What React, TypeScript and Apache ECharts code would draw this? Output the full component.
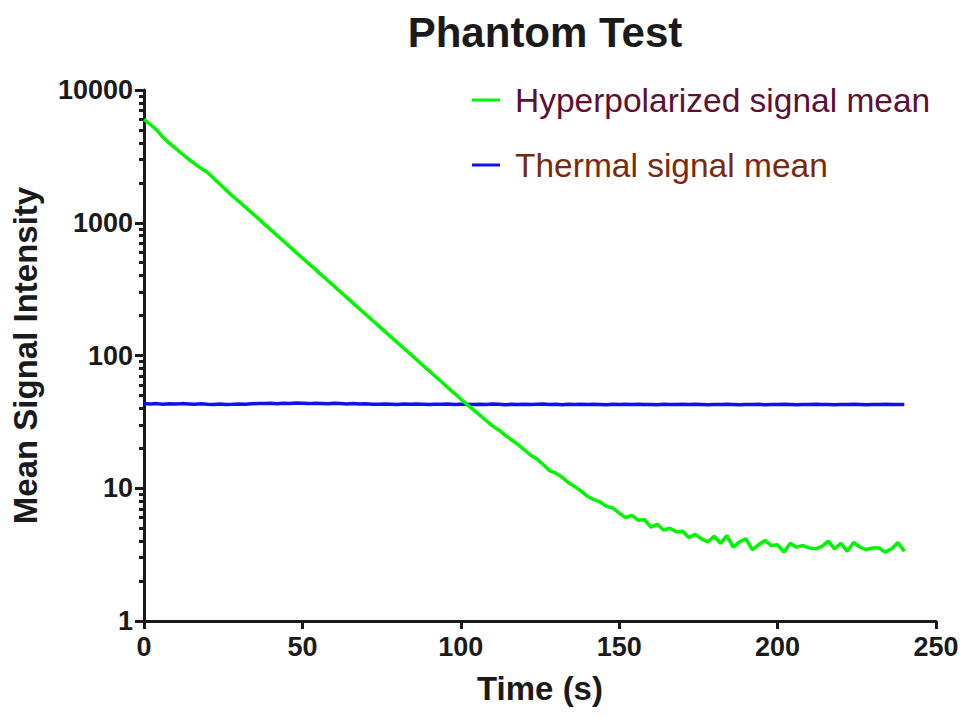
import React, { useEffect, useRef } from "react";
import * as echarts from "echarts";

const TITLE = "Phantom Test";
const X_LABEL = "Time (s)";
const Y_LABEL = "Mean Signal Intensity";
const SERIES_NAMES = ["Hyperpolarized signal mean", "Thermal signal mean"];
const TIME_STEP = 2; // seconds between samples

const HYPER_VALUES = [
  6000, 5500, 5000, 4400, 3980, 3630, 3310, 3020, 2790, 2570,
  2400, 2160, 1950, 1760, 1585, 1445, 1310, 1190, 1080, 977,
  887, 804, 728, 661, 598, 543, 492, 447, 405, 367,
  333, 302, 274, 248, 225, 204, 185, 168, 152, 138,
  125, 113.5, 103, 93.3, 84.5, 76.7, 69.5, 63.1, 57.1, 51.9,
  47.0, 42.7, 38.9, 35.5, 32.4, 29.5, 27.5, 25.1, 23.2, 21.4,
  19.5, 17.8, 16.6, 15.1, 13.6, 13.0, 12.1, 11.0, 10.3, 9.5,
  8.7, 8.2, 7.9, 7.3, 7.1, 6.5, 6.0, 6.25, 5.75, 5.8,
  5.1, 5.35, 4.85, 5.0, 4.7, 4.75, 4.25, 4.5, 4.15, 3.95,
  4.35, 3.85, 4.4, 3.6, 3.95, 4.15, 3.45, 3.75, 4.05, 3.7,
  3.75, 3.3, 3.85, 3.6, 3.7, 3.55, 3.5, 3.65, 4.0, 3.5,
  3.85, 3.35, 3.9, 3.6, 3.45, 3.55, 3.55, 3.3, 3.5, 3.9,
  3.35,
];

const THERMAL_VALUES = [
  43.5, 43.2, 43.4, 43.0, 43.3, 43.1, 43.4, 43.2, 42.9, 43.3,
  43.0, 42.8, 43.1, 42.7, 42.9, 43.2, 43.0, 43.3, 43.5, 43.4,
  43.6, 43.3, 43.7, 43.5, 43.8, 43.6, 43.4, 43.7, 43.5, 43.3,
  43.6, 43.4, 43.2, 43.5, 43.1, 43.3, 43.0, 42.9, 43.2, 43.0,
  42.8, 43.1, 42.9, 43.2, 43.0, 42.7, 43.0, 42.9, 43.1, 42.8,
  43.0, 42.9, 42.7, 43.0, 42.8, 43.1, 42.9, 42.6, 42.9, 42.8,
  43.0, 42.7, 42.9, 43.1, 42.8, 42.9, 42.6, 42.9, 42.8, 43.0,
  42.7, 42.9, 42.8, 42.6, 42.9, 42.7, 43.0, 42.8, 42.9, 42.7,
  42.8, 42.6, 42.9, 42.7, 42.8, 43.0, 42.7, 42.9, 42.8, 42.6,
  42.8, 42.7, 42.9, 42.8, 42.6, 42.8, 42.7, 42.9, 42.6, 42.8,
  42.7, 42.9, 42.8, 42.6, 42.8, 42.7, 42.9, 42.8, 42.7, 42.6,
  42.8, 42.7, 42.9, 42.8, 42.6, 42.8, 42.7, 42.9, 42.7, 42.8,
  42.7,
];

const X_MIN = 0;
const X_MAX = 250;
const X_INTERVAL = 50;
const Y_MIN = 1;
const Y_MAX = 10000;
const Y_MINOR_TICKS = [
  2, 3, 4, 5, 6, 7, 8, 9,
  20, 30, 40, 50, 60, 70, 80, 90,
  200, 300, 400, 500, 600, 700, 800, 900,
  2000, 3000, 4000, 5000, 6000, 7000, 8000, 9000,
];

const FONT = "'Liberation Sans', Arial, Helvetica, sans-serif";
const INK = "#1a1a1a";

export default function App() {
  const ref = useRef<HTMLDivElement>(null);

  useEffect(() => {
    if (!ref.current) return;
    const chart = echarts.init(ref.current, undefined, { renderer: "svg" });
    const toPairs = (vals: number[]) => vals.map((v, i) => [i * TIME_STEP, v]);

    const axisLineStyle = { color: INK, width: 3 };

    chart.setOption({
      animation: false,
      backgroundColor: "#ffffff",
      title: {
        text: TITLE,
        left: 540,
        top: 6,
        textAlign: "center",
        textStyle: { fontFamily: FONT, fontSize: 42, fontWeight: "bold", color: INK },
      },
      legend: {
        orient: "vertical",
        left: 467,
        top: 76,
        itemGap: 27,
        icon: "rect",
        itemWidth: 28,
        itemHeight: 3,
        textStyle: { fontFamily: FONT, fontSize: 33.5, lineHeight: 38, padding: [0, 0, 0, 10] },
        data: [
          { name: SERIES_NAMES[0], textStyle: { color: "#5c1034" } },
          { name: SERIES_NAMES[1], textStyle: { color: "#7a2a0c" } },
        ],
      },
      grid: { left: 144, right: 30, top: 90, bottom: 97 },
      xAxis: {
        type: "value",
        min: X_MIN,
        max: X_MAX,
        interval: X_INTERVAL,
        name: X_LABEL,
        nameLocation: "middle",
        nameGap: 51,
        nameTextStyle: { fontFamily: FONT, fontSize: 33, fontWeight: "bold", color: INK },
        axisLine: { show: true, lineStyle: axisLineStyle },
        axisTick: { show: true, length: 8, lineStyle: axisLineStyle },
        axisLabel: { margin: 12, fontFamily: FONT, fontSize: 27, fontWeight: "bold", color: INK },
        splitLine: { show: false },
      },
      yAxis: [
        {
          type: "log",
          logBase: 10,
          min: Y_MIN,
          max: Y_MAX,
          name: Y_LABEL,
          nameLocation: "middle",
          nameRotate: 90,
          nameGap: 102,
          nameTextStyle: { fontFamily: FONT, fontSize: 33, fontWeight: "bold", color: INK },
          axisLine: { show: true, lineStyle: axisLineStyle },
          axisTick: { show: true, length: 9, lineStyle: axisLineStyle },
          axisLabel: {
            margin: 11,
            fontFamily: FONT,
            fontSize: 27,
            fontWeight: "bold",
            color: INK,
            formatter: (v: number) => String(v),
          },
          splitLine: { show: false },
        },
        {
          type: "log",
          logBase: 10,
          min: Y_MIN,
          max: Y_MAX,
          position: "left",
          axisLine: { show: false },
          axisTick: {
            show: true,
            length: 5,
            customValues: Y_MINOR_TICKS,
            lineStyle: { color: INK, width: 3 },
          },
          axisLabel: { show: false },
          splitLine: { show: false },
        },
      ],
      series: [
        {
          name: SERIES_NAMES[0],
          type: "line",
          yAxisIndex: 0,
          data: toPairs(HYPER_VALUES),
          showSymbol: false,
          symbol: "none",
          lineStyle: { color: "#00f500", width: 3.5 },
          itemStyle: { color: "#00f500" },
          z: 3,
        },
        {
          name: SERIES_NAMES[1],
          type: "line",
          yAxisIndex: 0,
          data: toPairs(THERMAL_VALUES),
          showSymbol: false,
          symbol: "none",
          lineStyle: { color: "#1010f0", width: 3.5 },
          itemStyle: { color: "#1010f0" },
          z: 2,
        },
      ],
    });

    return () => chart.dispose();
  }, []);

  return (
    <div
      ref={ref}
      style={{ position: "fixed", left: 0, top: 0, width: 966, height: 718 }}
    />
  );
}
